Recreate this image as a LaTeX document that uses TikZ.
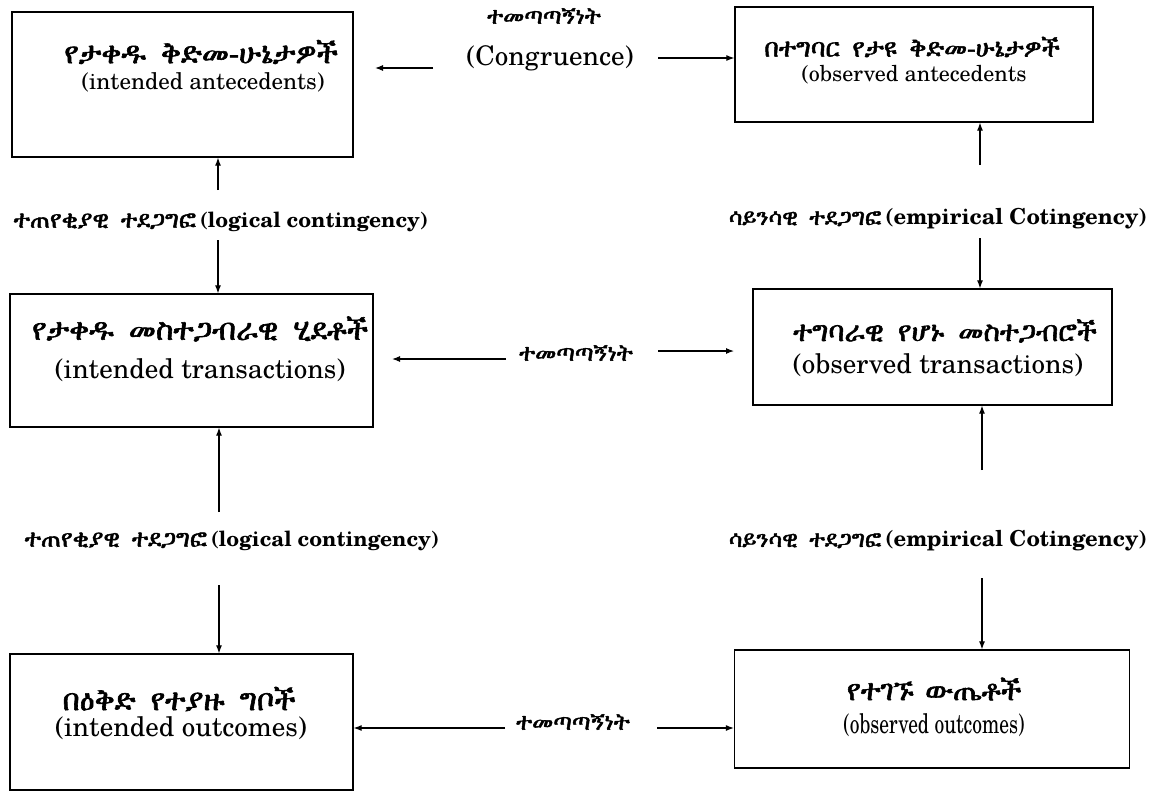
\documentclass[tikz,border=0pt]{standalone}
\usepackage{fontspec}
\usetikzlibrary{arrows.meta}
\IfFontExistsTF{TeX Gyre Schola}{%
  \setmainfont{TeX Gyre Schola}%
  \newfontfamily\narrowfont[FakeStretch=0.72]{TeX Gyre Schola}}{%
  \setmainfont{Liberation Serif}%
  \newfontfamily\narrowfont[FakeStretch=0.8]{Liberation Serif}}
\IfFontExistsTF{FreeSerif.otf}{\newfontfamily\eth[FakeBold=2]{FreeSerif.otf}}{%
 \IfFontExistsTF{FreeSerif}{\newfontfamily\eth[FakeBold=2]{FreeSerif}}{%
  \IfFontExistsTF{Abyssinica SIL}{\newfontfamily\eth{Abyssinica SIL}}{%
    \newfontfamily\eth{DejaVu Sans}}}}
\newcommand{\fs}[1]{\fontsize{#1}{#1}\selectfont}
\begin{document}
\begin{tikzpicture}[x=1pt,y=-1pt,
  box/.style={draw, line width=1.3pt, inner sep=0pt},
  arr/.style={-{Latex[length=8pt,width=6pt]}, line width=1.1pt},
  txt/.style={inner sep=0pt, anchor=center},
  am/.style={txt, font=\eth\fs{28}},
  amsm/.style={txt, font=\eth\fs{23.5}},
  en/.style={txt, font=\fs{25}}]
\useasboundingbox (0,0) rectangle (1165,793);
\fill[white] (0,0) rectangle (1165,793);
% boxes
\node[box, minimum width=341pt, minimum height=145pt] (A) at (182.5,84.5) {};
\node[box, minimum width=358pt, minimum height=115pt] (B) at (914,64.5) {};
\node[box, minimum width=363pt, minimum height=133pt] (C) at (191.5,360.5) {};
\node[box, minimum width=359pt, minimum height=116pt] (D) at (932.5,347) {};
\node[box, minimum width=343pt, minimum height=136pt] (E) at (181.5,722) {};
\node[box, minimum width=395pt, minimum height=118pt] (F) at (932,709) {};
% box texts
\node[am, font=\eth\fs{30}] (A1) at (201,52) {የታቀዱ\hspace{0.5em}ቅድመ-ሁኔታዎች};
\node[en, font=\fs{23}] (A2) at (203,82) {(intended antecedents)};
\node[am, font=\eth\fs{25.5}] (B1) at (912,47) {በተግባር\hspace{0.5em}የታዩ\hspace{0.5em}ቅድመ-ሁኔታዎች};
\node[en, font=\fs{22}] (B2) at (914,75) {(observed antecedents};
\node[am, font=\eth\fs{30}] (C1) at (200,329) {የታቀዱ\hspace{0.5em}መስተጋብራዊ\hspace{0.5em}ሂደቶች};
\node[en, font=\fs{27}] (C2) at (200,370) {(intended transactions)};
\node[am] (D1) at (945,331) {ተግባራዊ\hspace{0.5em}የሆኑ\hspace{0.5em}መስተጋብሮች};
\node[en, font=\fs{27}] (D2) at (938,365) {(observed transactions)};
\node[am, font=\eth\fs{30}] (E1) at (179,699) {በዕቅድ\hspace{0.5em}የተያዙ\hspace{0.5em}ግቦች};
\node[en, font=\fs{27}] (E2) at (181,728) {(intended outcomes)};
\node[am, font=\eth\fs{29}] (F1) at (934,689) {የተገኙ\hspace{0.4em}ውጤቶች};
\node[en, font=\narrowfont\fs{27}] (F2) at (934,725) {(observed outcomes)};
% top congruence
\node[amsm] (T1) at (544,16) {ተመጣጣኝነት};
\node[en, font=\fs{27}] (T2) at (550,58) {(Congruence)};
\coordinate (t1s) at (433,68); \coordinate (t1e) at (375,68);
\draw[arr] (t1s) -- (t1e);
\coordinate (t2s) at (658,58);
\draw[arr] (t2s) -- (t2s -| B.west);
% left upper contingency
\node[txt] (L1) at (221,222) {{\eth\fs{24}ተጠየቂያዊ\hspace{0.5em}ተደጋግፎ}\hspace{0.4em}{\bfseries\fs{21}(logical contingency)}};
\coordinate (l1u) at (218,190); \coordinate (l1d) at (218,240);
\draw[arr] (l1u) -- (l1u |- A.south);
\draw[arr] (l1d) -- (l1d |- C.north);
% right upper contingency
\node[txt] (R1) at (938,219) {{\eth\fs{23}ሳይንሳዊ\hspace{0.5em}ተደጋግፎ}\hspace{0.4em}{\bfseries\fs{22}(empirical Cotingency)}};
\coordinate (r1u) at (980,165); \coordinate (r1d) at (980,238);
\draw[arr] (r1u) -- (r1u |- B.south);
\draw[arr] (r1d) -- (r1d |- D.north);
% middle congruence
\node[amsm] (M1) at (576,353) {ተመጣጣኝነት};
\coordinate (m1s) at (506,359); \coordinate (m1e) at (392,359);
\draw[arr] (m1s) -- (m1e);
\coordinate (m2s) at (658,351); \coordinate (m2e) at (734,351);
\draw[arr] (m2s) -- (m2e);
% left lower contingency
\node[txt] (L2) at (232,541) {{\eth\fs{24}ተጠየቂያዊ\hspace{0.5em}ተደጋግፎ}\hspace{0.4em}{\bfseries\fs{21}(logical contingency)}};
\coordinate (l2u) at (219,512); \coordinate (l2d) at (219,585);
\draw[arr] (l2u) -- (l2u |- C.south);
\draw[arr] (l2d) -- (l2d |- E.north);
% right lower contingency
\node[txt] (R2) at (938,541) {{\eth\fs{23}ሳይንሳዊ\hspace{0.5em}ተደጋግፎ}\hspace{0.4em}{\bfseries\fs{22}(empirical Cotingency)}};
\coordinate (r2u) at (982,470); \coordinate (r2d) at (982,578);
\draw[arr] (r2u) -- (r2u |- D.south);
\draw[arr] (r2d) -- (r2d |- F.north);
% bottom congruence
\node[amsm] (N1) at (573,722) {ተመጣጣኝነት};
\coordinate (n1s) at (505,728);
\draw[arr] (n1s) -- (n1s -| E.east);
\coordinate (n2s) at (657,728);
\draw[arr] (n2s) -- (n2s -| F.west);
\end{tikzpicture}
\end{document}
